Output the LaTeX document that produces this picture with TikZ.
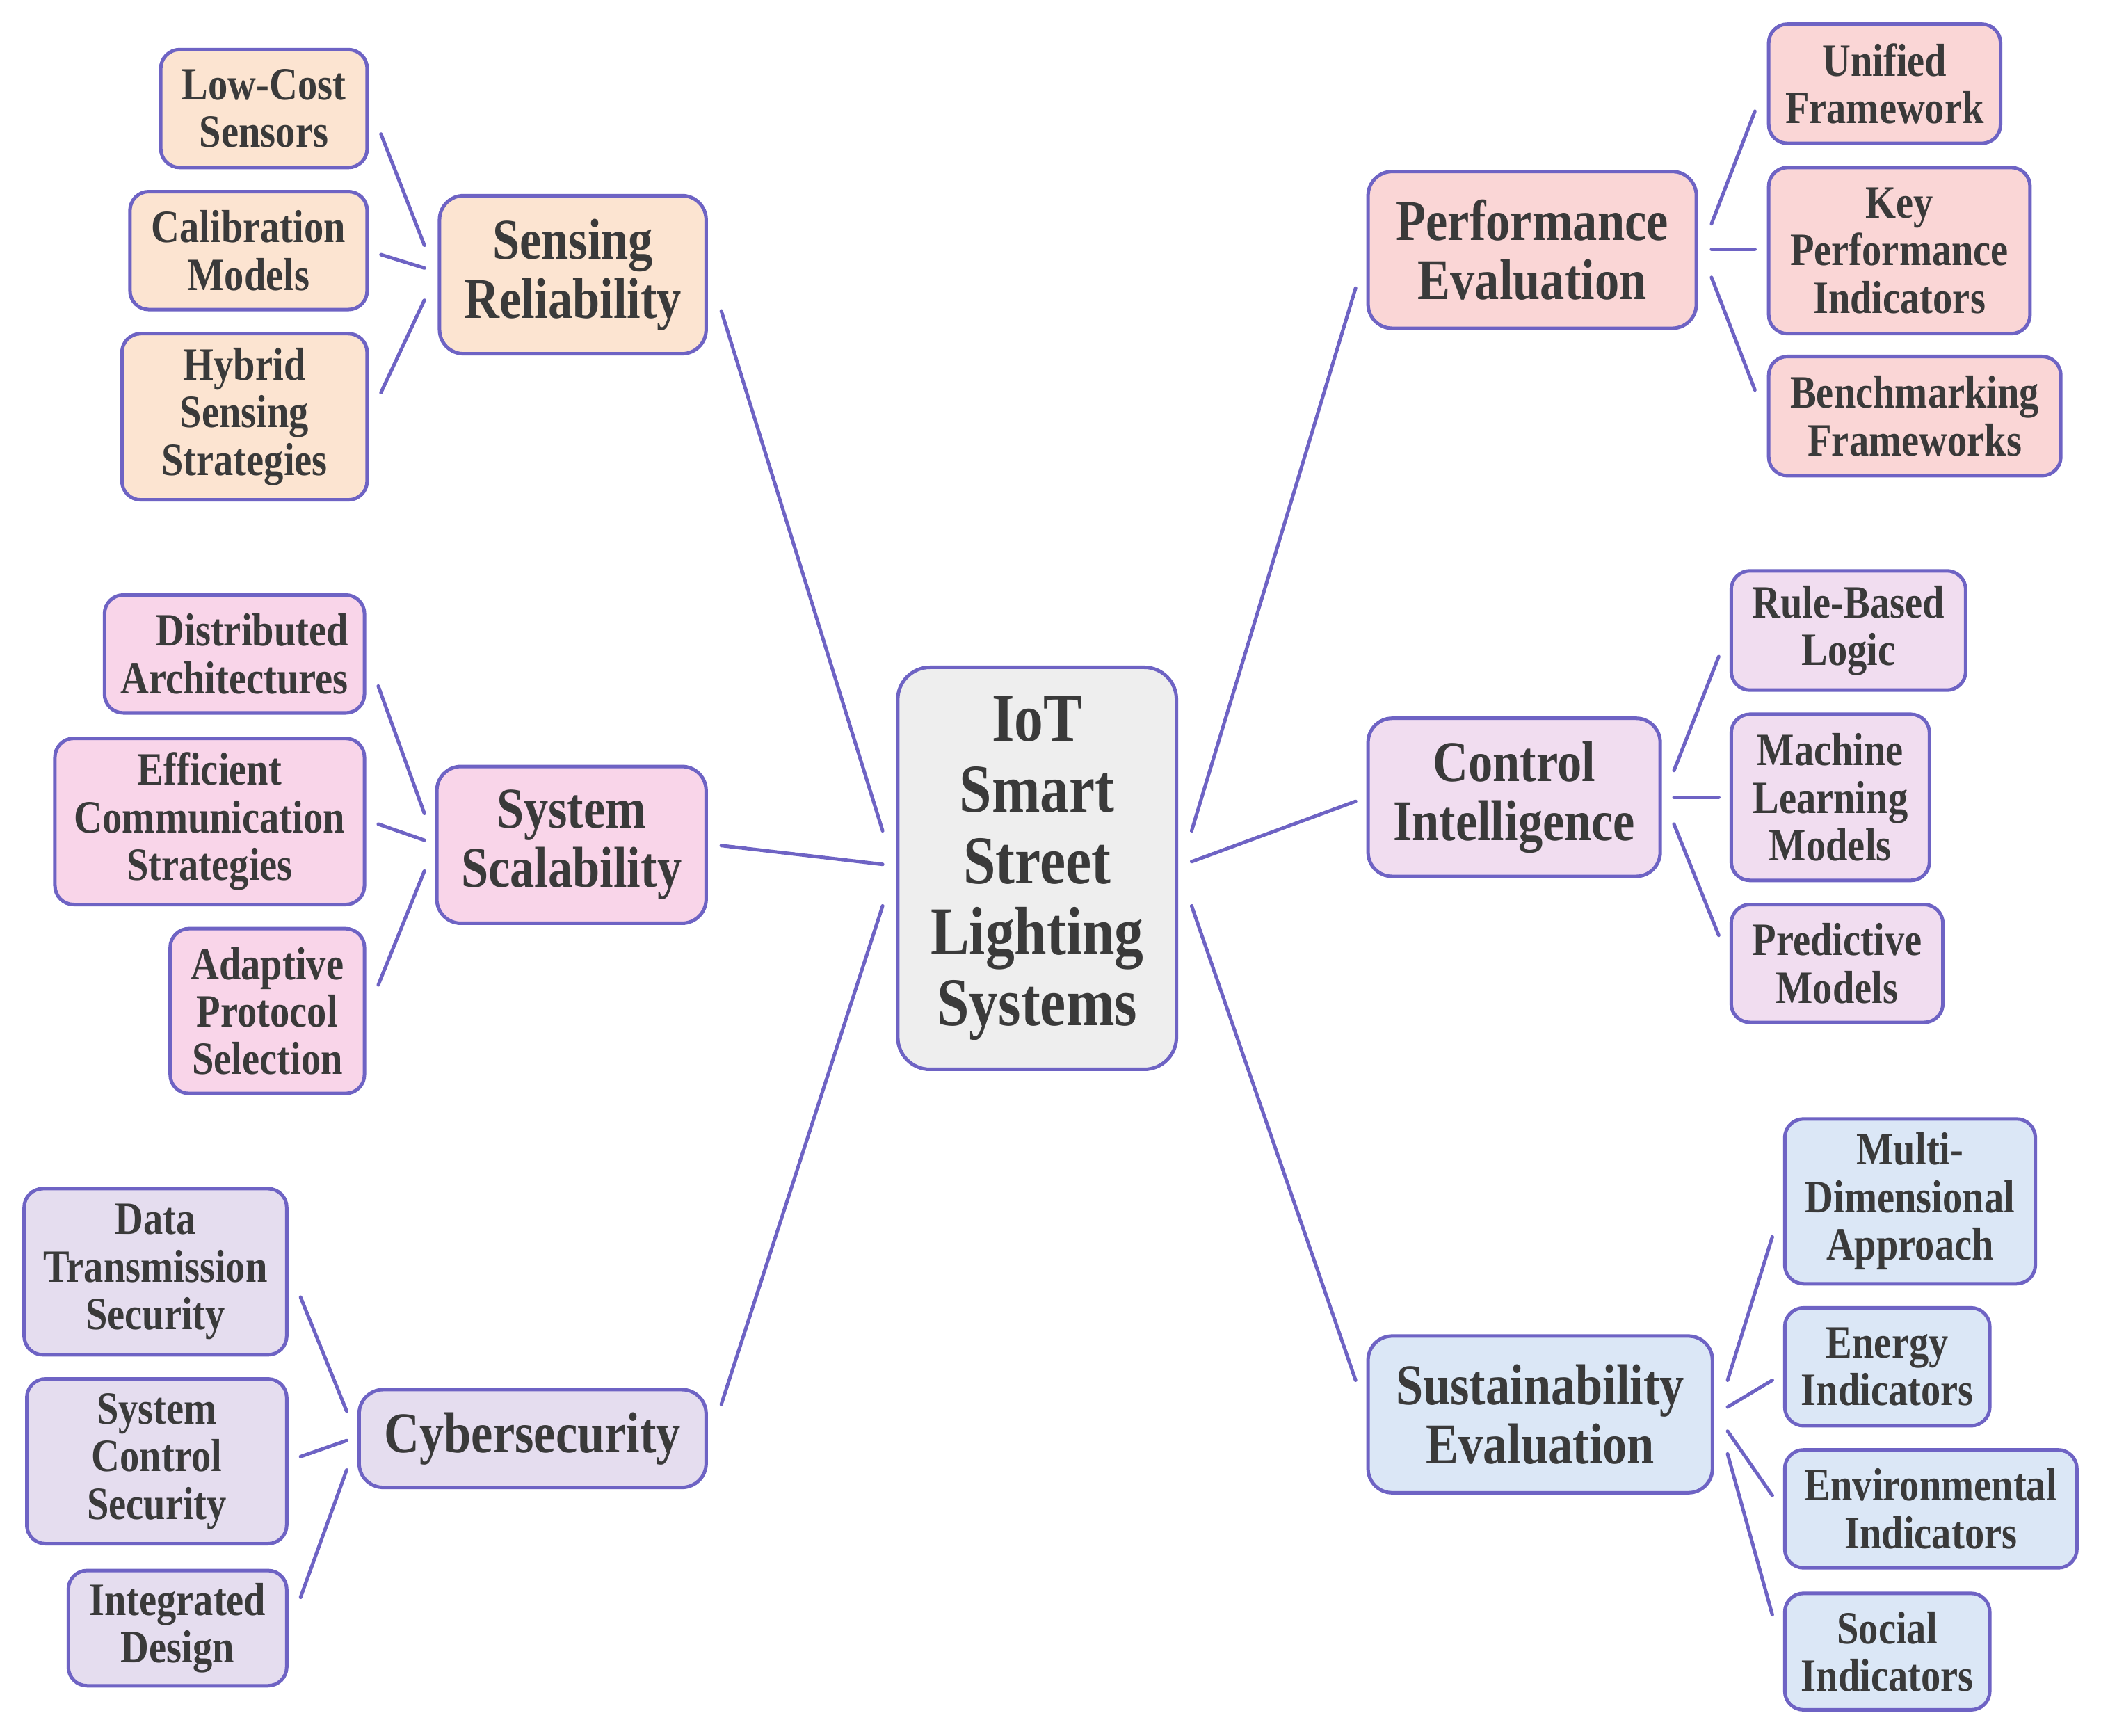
\documentclass[tikz,border=0pt]{standalone}
\usepackage{fontspec}
\setmainfont{Liberation Serif}[FakeStretch=0.85]
\usetikzlibrary{calc}
\definecolor{linec}{RGB}{110,99,196}
\definecolor{txt}{RGB}{58,58,58}
\definecolor{cgray}{RGB}{238,238,238}
\definecolor{cpeach}{RGB}{252,228,209}
\definecolor{cpink}{RGB}{249,213,233}
\definecolor{clav}{RGB}{229,221,239}
\definecolor{csalmon}{RGB}{250,214,214}
\definecolor{cmauve}{RGB}{241,221,240}
\definecolor{cblue}{RGB}{219,231,246}
\tikzset{
  box/.style={draw=linec, line width=2.6pt, align=center, inner sep=0pt, text=txt, rectangle},
  ctrbox/.style={box, rounded corners=24pt, font=\bfseries\fontsize{51}{53}\selectfont},
  mainbox/.style={box, rounded corners=18pt, font=\bfseries\fontsize{43}{44}\selectfont},
  subbox/.style={box, rounded corners=14pt, font=\bfseries\fontsize{34.5}{35.5}\selectfont},
  conn/.style={draw=linec, line width=2.6pt, line cap=round}
}
\begin{document}
\begin{tikzpicture}[x=1pt,y=-1pt]
\useasboundingbox[fill=white] (0,0) rectangle (1568,1295.5);

% center
\node[ctrbox, fill=cgray, minimum width=208pt, minimum height=300pt] (ctr) at (774,648) {IoT\\Smart\\Street\\Lighting\\Systems};

% left: sensing
\node[subbox, fill=cpeach, minimum width=154pt, minimum height=88pt] (lc) at (197,81) {Low-Cost\\Sensors};
\node[subbox, fill=cpeach, minimum width=177pt, minimum height=88pt] (cm) at (185.5,187) {Calibration\\Models};
\node[subbox, fill=cpeach, minimum width=183pt, minimum height=124pt] (hs) at (182.5,311) {Hybrid\\Sensing\\Strategies};
\node[mainbox, fill=cpeach, minimum width=199pt, minimum height=118pt] (sr) at (427.5,205) {Sensing\\Reliability};

% left: scalability
\node[subbox, fill=cpink, minimum width=194pt, minimum height=88pt, align=right] (da) at (175,488) {Distributed\\Architectures};
\node[subbox, fill=cpink, minimum width=231pt, minimum height=124pt] (ec) at (156.5,613) {Efficient\\Communication\\Strategies};
\node[subbox, fill=cpink, minimum width=145pt, minimum height=123pt] (ap) at (199.5,754.5) {Adaptive\\Protocol\\Selection};
\node[mainbox, fill=cpink, minimum width=201pt, minimum height=117pt] (ss) at (426.5,630.5) {System\\Scalability};

% left: cybersecurity
\node[subbox, fill=clav, minimum width=196pt, minimum height=124pt] (dt) at (116,949) {Data\\Transmission\\Security};
\node[subbox, fill=clav, minimum width=194pt, minimum height=123pt] (sc) at (117,1090.5) {System\\Control\\Security};
\node[subbox, fill=clav, minimum width=163pt, minimum height=86pt] (id) at (132.5,1215) {Integrated\\Design};
\node[mainbox, fill=clav, minimum width=259pt, minimum height=73pt] (cy) at (397.5,1073.5) {Cybersecurity};

% right: performance
\node[mainbox, fill=csalmon, minimum width=245pt, minimum height=117pt] (pe) at (1143.5,186.5) {Performance\\Evaluation};
\node[subbox, fill=csalmon, minimum width=173pt, minimum height=89pt] (uf) at (1406.5,62.5) {Unified\\Framework};
\node[subbox, fill=csalmon, minimum width=195pt, minimum height=124pt] (kpi) at (1417.5,187) {Key\\Performance\\Indicators};
\node[subbox, fill=csalmon, minimum width=218pt, minimum height=89pt] (bf) at (1429,310.5) {Benchmarking\\Frameworks};

% right: control
\node[mainbox, fill=cmauve, minimum width=218pt, minimum height=118pt] (ci) at (1130,595) {Control\\Intelligence};
\node[subbox, fill=cmauve, minimum width=175pt, minimum height=89pt] (rb) at (1379.5,470.5) {Rule-Based\\Logic};
\node[subbox, fill=cmauve, minimum width=148pt, minimum height=124pt] (ml) at (1366,595) {Machine\\Learning\\Models};
\node[subbox, fill=cmauve, minimum width=158pt, minimum height=88pt] (pm) at (1371,719) {Predictive\\Models};

% right: sustainability
\node[mainbox, fill=cblue, minimum width=257pt, minimum height=117pt] (se) at (1149.5,1055.5) {Sustainability\\Evaluation};
\node[subbox, fill=cblue, minimum width=187pt, minimum height=123pt] (md) at (1425.5,896.5) {Multi-\\Dimensional\\Approach};
\node[subbox, fill=cblue, minimum width=153pt, minimum height=88pt] (ei) at (1408.5,1020) {Energy\\Indicators};
\node[subbox, fill=cblue, minimum width=218pt, minimum height=88pt] (en) at (1441,1126) {Environmental\\Indicators};
\node[subbox, fill=cblue, minimum width=153pt, minimum height=87pt] (so) at (1408.5,1232.5) {Social\\Indicators};

% center connectors
\draw[conn] ($(ctr.west)+(-10,-28)$) -- ($(sr.east)+(10,27)$);
\draw[conn] ($(ctr.west)+(-10,-3)$) -- ($(ss.east)+(10,0.5)$);
\draw[conn] ($(ctr.west)+(-10,28)$) -- ($(cy.east)+(10,-25.5)$);
\draw[conn] ($(ctr.east)+(10,-28)$) -- ($(pe.west)+(-8,28.5)$);
\draw[conn] ($(ctr.east)+(10,-5)$) -- ($(ci.west)+(-8,3)$);
\draw[conn] ($(ctr.east)+(10,28)$) -- ($(se.west)+(-8,-25.5)$);

% sensing
\draw[conn] ($(lc.east)+(9,19)$) -- ($(sr.west)+(-10,-22)$);
\draw[conn] ($(cm.east)+(9,3)$) -- ($(sr.west)+(-10,-5)$);
\draw[conn] ($(hs.east)+(9,-18)$) -- ($(sr.west)+(-10,19)$);

% scalability
\draw[conn] ($(da.east)+(9,24)$) -- ($(ss.west)+(-8,-23.5)$);
\draw[conn] ($(ec.east)+(9,2)$) -- ($(ss.west)+(-8,-3.5)$);
\draw[conn] ($(ap.east)+(9,-19.5)$) -- ($(ss.west)+(-8,19.5)$);

% cyber
\draw[conn] ($(dt.east)+(9,19)$) -- ($(cy.west)+(-8,-20.5)$);
\draw[conn] ($(sc.east)+(9,-3.5)$) -- ($(cy.west)+(-8,1.5)$);
\draw[conn] ($(id.east)+(9,-23)$) -- ($(cy.west)+(-8,23.5)$);

% performance
\draw[conn] ($(pe.east)+(10,-19.5)$) -- ($(uf.west)+(-9,20.5)$);
\draw[conn] ($(pe.east)+(10,-0.5)$) -- ($(kpi.west)+(-9,-1)$);
\draw[conn] ($(pe.east)+(10,20.5)$) -- ($(bf.west)+(-9,-19.5)$);

% control
\draw[conn] ($(ci.east)+(9,-20)$) -- ($(rb.west)+(-8,19.5)$);
\draw[conn] ($(ci.east)+(9,0)$) -- ($(ml.west)+(-8,0)$);
\draw[conn] ($(ci.east)+(9,20)$) -- ($(pm.west)+(-8,-21)$);

% sustainability
\draw[conn] ($(se.east)+(10,-25.5)$) -- ($(md.west)+(-8,26.5)$);
\draw[conn] ($(se.east)+(10,-5.5)$) -- ($(ei.west)+(-8,10)$);
\draw[conn] ($(se.east)+(10,12.5)$) -- ($(en.west)+(-8,-10)$);
\draw[conn] ($(se.east)+(10,29.5)$) -- ($(so.west)+(-8,-27.5)$);
\end{tikzpicture}
\end{document}
